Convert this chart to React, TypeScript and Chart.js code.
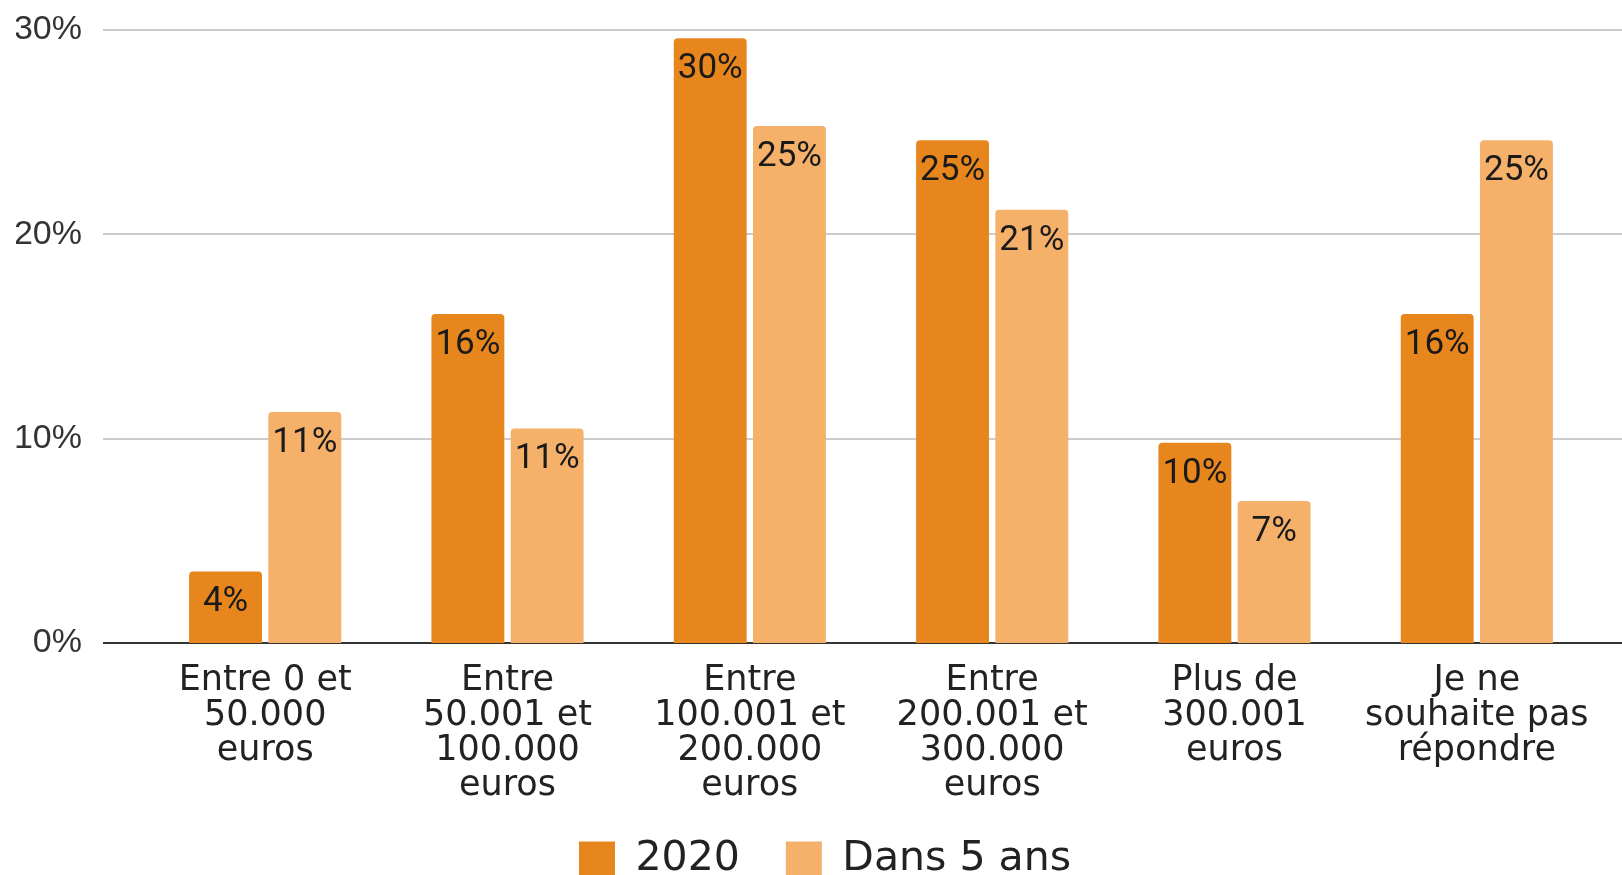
import React, { useEffect, useRef } from "react";
import { Chart, registerables } from "chart.js";

Chart.register(...registerables);

const categories: string[][] = [
  ["Entre 0 et", "50.000", "euros"],
  ["Entre", "50.001 et", "100.000", "euros"],
  ["Entre", "100.001 et", "200.000", "euros"],
  ["Entre", "200.001 et", "300.000", "euros"],
  ["Plus de", "300.001", "euros"],
  ["Je ne", "souhaite pas", "répondre"],
];

const seriesNames = ["2020", "Dans 5 ans"];
const values2020 = [3.5, 16.1, 29.6, 24.6, 9.8, 16.1];
const valuesDans5Ans = [11.3, 10.5, 25.3, 21.2, 6.95, 24.6];
const yMin = 0;
const yMax = 30;
const yStep = 10;

const colors = ["#E8861E", "#F5B06A"];

const gridPlugin = {
  id: "hgrid",
  beforeDatasetsDraw(chart: any) {
    const { ctx, chartArea, scales } = chart;
    const y = scales.y;
    const x0 = chartArea.left - 41;
    const x1 = chart.width;
    ctx.save();
    y.ticks.forEach((t: any) => {
      const py = Math.round(y.getPixelForValue(t.value));
      ctx.strokeStyle = t.value === 0 ? "#333333" : "#cccccc";
      ctx.lineWidth = 2;
      ctx.beginPath();
      ctx.moveTo(x0, py);
      ctx.lineTo(x1, py);
      ctx.stroke();
    });
    ctx.restore();
  },
};

const labelPlugin = {
  id: "barLabels",
  afterDatasetsDraw(chart: any) {
    const { ctx } = chart;
    ctx.save();
    ctx.font = "35px Roboto";
    ctx.fillStyle = "#1a1a1a";
    ctx.textAlign = "center";
    ctx.textBaseline = "middle";
    chart.data.datasets.forEach((ds: any, i: number) => {
      const meta = chart.getDatasetMeta(i);
      meta.data.forEach((bar: any, j: number) => {
        ctx.fillText(Math.round(ds.data[j]) + "%", bar.x, bar.y + 31);
      });
    });
    ctx.restore();
  },
};

const layoutTweak = {
  id: "layoutTweak",
  afterLayout(chart: any) {
    if (chart.legend) {
      chart.legend.left += 18;
      chart.legend.right += 18;
    }
    if (chart.scales.x) {
      chart.scales.x.bottom = chart.height;
    }
  },
};

export default function App() {
  const ref = useRef<HTMLCanvasElement>(null);
  useEffect(() => {
    if (!ref.current) return;
    const chart = new Chart(ref.current, {
      type: "bar",
      data: {
        labels: categories,
        datasets: [
          {
            label: seriesNames[0],
            data: values2020,
            backgroundColor: colors[0],
            borderWidth: 0,
            borderRadius: 4,
            categoryPercentage: 0.654,
            barPercentage: 0.92,
          },
          {
            label: seriesNames[1],
            data: valuesDans5Ans,
            backgroundColor: colors[1],
            borderWidth: 0,
            borderRadius: 4,
            categoryPercentage: 0.654,
            barPercentage: 0.92,
          },
        ],
      },
      options: {
        animation: false,
        responsive: true,
        maintainAspectRatio: false,
        layout: { padding: { left: 16, right: 24, top: 30, bottom: 0 } },
        scales: {
          x: {
            grid: { display: false, drawTicks: false },
            border: { display: false },
            afterFit: (scale: any) => {
              scale.paddingLeft = 0;
              scale.paddingRight = 0;
              scale.height = 150;
            },
            ticks: {
              padding: 20,
              color: "#222222",
              maxRotation: 0,
              autoSkip: false,
              font: { family: "DejaVu Sans", size: 35, lineHeight: 1.0 },
            },
          },
          y: {
            min: yMin,
            max: yMax,
            grid: { display: false, drawTicks: false },
            border: { display: false },
            afterFit: (scale: any) => {
              scale.paddingTop = 0;
              scale.paddingBottom = 0;
              scale.width = 128;
            },
            ticks: {
              stepSize: yStep,
              padding: 62,
              color: "#333333",
              font: { family: "Liberation Sans", size: 34 },
              callback: (v: any) => v + "%",
            },
          },
        },
        plugins: {
          tooltip: { enabled: false },
          legend: {
            position: "bottom",
            labels: {
              boxWidth: 36,
              boxHeight: 36,
              padding: 46,
              color: "#222222",
              font: { family: "DejaVu Sans", size: 41 },
            },
          },
        },
      },
      plugins: [gridPlugin, labelPlugin, layoutTweak],
    });
    return () => chart.destroy();
  }, []);

  return (
    <div style={{ position: "fixed", left: 0, top: 0, width: "100vw", height: "100vh", overflow: "hidden", background: "#fff" }}>
      <div style={{ position: "absolute", left: 0, top: 0, width: "1622px", height: "890px" }}>
        <canvas ref={ref} />
      </div>
    </div>
  );
}
